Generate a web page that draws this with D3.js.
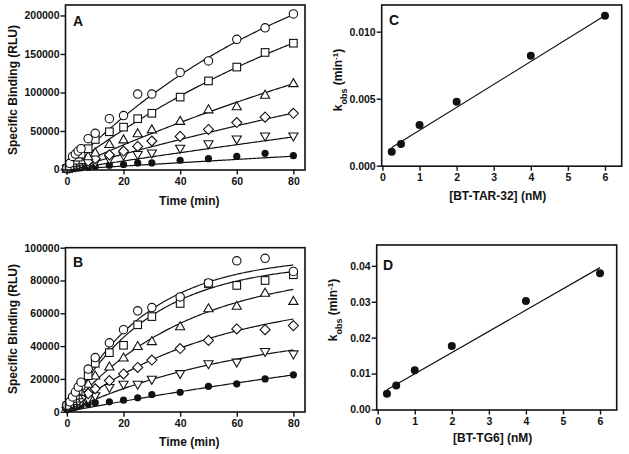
<!DOCTYPE html>
<html><head><meta charset="utf-8">
<script src="https://cdn.jsdelivr.net/npm/d3@7"></script>
<style>
body{margin:0;background:#fff;}
text{font-family:"Liberation Sans",Arial,sans-serif;font-weight:bold;fill:#111;}
</style></head>
<body><svg id="c" width="629" height="454"></svg>
<script>
// ---------- data ----------
const times = [0, 1, 2, 3, 4, 5, 7.5, 10, 15, 20, 25, 30, 40, 50, 60, 70, 80];
const seriesNames = ["6 nM", "4 nM", "2 nM", "1 nM", "0.5 nM", "0.25 nM"];
const markerTypes = ["circle", "square", "triangle", "diamond", "triangleDown", "filled"];

// Panel A (BT-TAR-32)
const A_circle  = [2000, 8000, 17000, 20000, 24000, 27000, 40000, 47000, 66000, 70000, 98000, 98000, 126000, 141000, 169000, 184000, 202000];
const A_square  = [1500, 5000, 9000, 12000, 16000, 20000, 27000, 39000, 49000, 55000, 66000, 73000, 94000, 115000, 133000, 152000, 164000];
const A_tri     = [1000, 3000, 6000, 8000, 10000, 12000, 17000, 22000, 33000, 39000, 47000, 52000, 63000, 78000, 82000, 97000, 112000];
const A_diamond = [1000, 2500, 4000, 5500, 7000, 8500, 11000, 14000, 19000, 24000, 30000, 37000, 43000, 52000, 61000, 68000, 73000];
const A_triDown = [800, 1500, 2500, 3200, 4000, 5000, 7000, 9000, 13000, 18000, 19000, 21000, 27000, 33000, 39000, 43000, 43000];
const A_filled  = [500, 800, 1200, 1500, 1800, 2200, 3000, 4000, 5600, 6500, 8600, 8600, 12000, 14000, 17000, 21000, 18000];
// fitted one-phase association parameters (Ymax, kobs)
const A_fitYmax = [339600, 341400, 349300, 344000, 352000, 216700];
const A_fitK    = [0.0112, 0.0082, 0.0048, 0.0030, 0.0016, 0.00104];

// Panel B (BT-TG6)
const B_circle  = [4000, 6000, 9000, 12000, 15000, 18000, 26000, 33000, 42000, 50000, 61500, 63500, 70000, 78500, 92000, 93500, 85500];
const B_square  = [3500, 5000, 8000, 10000, 13000, 16000, 22000, 29500, 36000, 40500, 53000, 58000, 66000, 78000, 77000, 80000, 83500];
const B_tri     = [3000, 4500, 6500, 8000, 10000, 12000, 17000, 22000, 27500, 33000, 40000, 43000, 52000, 63000, 64500, 72500, 67500];
const B_diamond = [2500, 3500, 5000, 6000, 7000, 8500, 11000, 14000, 19000, 23000, 27000, 31500, 38500, 43500, 50500, 50000, 52500];
const B_triDown = [2000, 2800, 3500, 4200, 5000, 6000, 7500, 9500, 14500, 16500, 16500, 19500, 23000, 29000, 30000, 36500, 35000];
const B_filled  = [1500, 2000, 2500, 3000, 3500, 4000, 4800, 5500, 6000, 7000, 8500, 10500, 11800, 15500, 17000, 20000, 22500];
const B_fitYmax = [94800, 91300, 87500, 71700, 53200, 74400];
const B_fitK    = [0.0359, 0.0343, 0.0239, 0.0194, 0.01536, 0.00448];

// Panel C
const concC = [0.25, 0.5, 1, 2, 4, 6];
const kobsC = [0.00104, 0.00162, 0.00304, 0.00478, 0.00821, 0.01119];
const lineC = [[0.25, 0.00135], [6, 0.0112]];
// Panel D
const concD = [0.25, 0.5, 1, 2, 4, 6];
const kobsD = [0.0044, 0.0067, 0.0109, 0.0177, 0.0302, 0.0379];
const lineD = [[0.25, 0.0055], [6, 0.0395]];

const timeTicks = [0, 20, 40, 60, 80];
const A_yTicks = [0, 50000, 100000, 150000, 200000];
const B_yTicks = [0, 20000, 40000, 60000, 80000, 100000];
const C_yTicks = [0, 0.005, 0.010];
const D_yTicks = [0, 0.01, 0.02, 0.03, 0.04];
const concTicks = [0, 1, 2, 3, 4, 5, 6];

// ---------- drawing ----------
const svg = d3.select("#c");

function frame(x0, x1, y0, y1) {
  svg.append("rect").attr("x", x0).attr("y", y0).attr("width", x1 - x0).attr("height", y1 - y0)
    .attr("fill", "none").attr("stroke", "#111").attr("stroke-width", 1.6);
}

function axes(x, y, xTicks, yTicks, xFmt, yFmt) {
  const yr = y.range();
  const xr = x.range();
  const gx = svg.append("g").attr("transform", `translate(0,${yr[0]})`)
    .call(d3.axisBottom(x).tickValues(xTicks).tickFormat(xFmt).tickSize(5).tickSizeOuter(0).tickPadding(3));
  const gy = svg.append("g").attr("transform", `translate(${xr[0]},0)`)
    .call(d3.axisLeft(y).tickValues(yTicks).tickFormat(yFmt).tickSize(5).tickSizeOuter(0).tickPadding(1));
  [gx, gy].forEach(g => {
    g.select(".domain").remove();
    g.selectAll("line").attr("stroke", "#111").attr("stroke-width", 1.4);
    g.selectAll("text").style("font-size", "10.5px").style("font-family", "'Liberation Sans',Arial,sans-serif")
      .style("font-weight", "bold").attr("fill", "#111");
  });
}

function marker(g, type, cx, cy) {
  const sw = 1.1;
  if (type === "circle") {
    g.append("circle").attr("cx", cx).attr("cy", cy).attr("r", 4.2).attr("fill", "#fff").attr("stroke", "#111").attr("stroke-width", sw);
  } else if (type === "filled") {
    g.append("circle").attr("cx", cx).attr("cy", cy).attr("r", 3.6).attr("fill", "#111");
  } else if (type === "square") {
    g.append("rect").attr("x", cx - 3.8).attr("y", cy - 3.8).attr("width", 7.6).attr("height", 7.6).attr("fill", "#fff").attr("stroke", "#111").attr("stroke-width", sw);
  } else if (type === "triangle") {
    g.append("path").attr("d", `M${cx},${cy - 4.6}L${cx + 4.6},${cy + 3.4}L${cx - 4.6},${cy + 3.4}Z`).attr("fill", "#fff").attr("stroke", "#111").attr("stroke-width", sw);
  } else if (type === "triangleDown") {
    g.append("path").attr("d", `M${cx},${cy + 4.6}L${cx + 4.6},${cy - 3.4}L${cx - 4.6},${cy - 3.4}Z`).attr("fill", "#fff").attr("stroke", "#111").attr("stroke-width", sw);
  } else if (type === "diamond") {
    g.append("path").attr("d", `M${cx},${cy - 5}L${cx + 5},${cy}L${cx},${cy + 5}L${cx - 5},${cy}Z`).attr("fill", "#fff").attr("stroke", "#111").attr("stroke-width", sw);
  }
}

function kineticPanel(opts) {
  const { x, y, series, ymax, kk, yTicks, letter, lx, ly, titleY, yTitleX, yTitleY } = opts;
  const xr = x.range(), yr = y.range();
  // fit curves
  const fine = d3.range(0, 80.01, 0.5);
  const line = d3.line().x(d => x(d[0])).y(d => y(d[1]));
  series.forEach((s, i) => {
    const pts = fine.map(t => [t, ymax[i] * (1 - Math.exp(-kk[i] * t))]);
    svg.append("path").attr("d", line(pts)).attr("fill", "none").attr("stroke", "#111").attr("stroke-width", 1.2);
  });
  // markers (draw lower series last so they sit on top)
  const g = svg.append("g");
  series.slice().reverse().forEach((s, ri) => {
    const i = series.length - 1 - ri;
    s.forEach((v, j) => marker(g, markerTypes[i], x(times[j]), y(v)));
  });
  frame(opts.fx0, opts.fx1, yr[1], opts.fy1);
  axes(x, y, timeTicks, yTicks, d3.format("d"), d3.format("d"));
  svg.append("text").attr("x", lx).attr("y", ly).style("font-size", "14px").text(letter);
  svg.append("text").attr("x", (xr[0] + xr[1]) / 2 + 4).attr("y", titleY).attr("text-anchor", "middle")
    .style("font-size", "12px").text("Time (min)");
  svg.append("text").attr("transform", `translate(${yTitleX},${yTitleY}) rotate(-90)`).attr("text-anchor", "middle")
    .style("font-size", "12px").text("Specific Binding (RLU)");
}

// Panel A
const xA = d3.scaleLinear().domain([-0.5, 84.1]).range([65.5, 305]);
const yA = d3.scaleLinear().domain([0, 213600]).range([169.5, 5]);
kineticPanel({ x: xA, y: yA, series: [A_circle, A_square, A_tri, A_diamond, A_triDown, A_filled],
  ymax: A_fitYmax, kk: A_fitK, yTicks: A_yTicks, letter: "A", lx: 73, ly: 26,
  titleY: 205, yTitleX: 17, yTitleY: 90, fx0: 65.5, fx1: 305, fy1: 170 });

// Panel B
const xB = d3.scaleLinear().domain([-0.5, 84.1]).range([65.5, 305]);
const yB = d3.scaleLinear().domain([0, 100000]).range([411.7, 247.7]);
kineticPanel({ x: xB, y: yB, series: [B_circle, B_square, B_tri, B_diamond, B_triDown, B_filled],
  ymax: B_fitYmax, kk: B_fitK, yTicks: B_yTicks, letter: "B", lx: 73, ly: 267,
  titleY: 446, yTitleX: 17, yTitleY: 329, fx0: 65.5, fx1: 305, fy1: 412 });

// Rate panels
function ratePanel(opts) {
  const { x, y, conc, kobs, fit, yTicks, yFmt, letter, lx, ly, xTitle, titleY, yTitleX, yTitleY } = opts;
  const xr = x.range(), yr = y.range();
  svg.append("path").attr("d", d3.line().x(d => x(d[0])).y(d => y(d[1]))(fit))
    .attr("fill", "none").attr("stroke", "#111").attr("stroke-width", 1.2);
  conc.forEach((c, i) => svg.append("circle").attr("cx", x(c)).attr("cy", y(kobs[i])).attr("r", 4).attr("fill", "#111"));
  frame(xr[0], xr[1], yr[1], yr[0] + 0.5);
  axes(x, y, concTicks, yTicks, d3.format("d"), yFmt);
  svg.append("text").attr("x", lx).attr("y", ly).style("font-size", "14px").text(letter);
  svg.append("text").attr("x", (xr[0] + xr[1]) / 2 - 4).attr("y", titleY).attr("text-anchor", "middle")
    .style("font-size", "12px").text(xTitle);
  const t = svg.append("text").attr("transform", `translate(${yTitleX},${yTitleY}) rotate(-90)`).attr("text-anchor", "middle")
    .style("font-size", "12px");
  t.append("tspan").text("k");
  t.append("tspan").attr("baseline-shift", "sub").style("font-size", "9px").text("obs");
  t.append("tspan").text(" (min");
  t.append("tspan").attr("baseline-shift", "super").style("font-size", "8px").text("-1");
  t.append("tspan").text(")");
}

const xC = d3.scaleLinear().domain([-0.02, 6.45]).range([381.7, 621.7]);
const yC = d3.scaleLinear().domain([0, 0.01199]).range([165.7, 5]);
ratePanel({ x: xC, y: yC, conc: concC, kobs: kobsC, fit: lineC, yTicks: C_yTicks, yFmt: d3.format(".3f"),
  letter: "C", lx: 389, ly: 25, xTitle: "[BT-TAR-32] (nM)", titleY: 200, yTitleX: 342, yTitleY: 80 });

const xD = d3.scaleLinear().domain([-0.027, 6.45]).range([376.7, 616.7]);
const yD = d3.scaleLinear().domain([0, 0.0458]).range([409.5, 245]);
ratePanel({ x: xD, y: yD, conc: concD, kobs: kobsD, fit: lineD, yTicks: D_yTicks, yFmt: d3.format(".2f"),
  letter: "D", lx: 383, ly: 270, xTitle: "[BT-TG6] (nM)", titleY: 442, yTitleX: 337, yTitleY: 310 });
</script></body></html>
